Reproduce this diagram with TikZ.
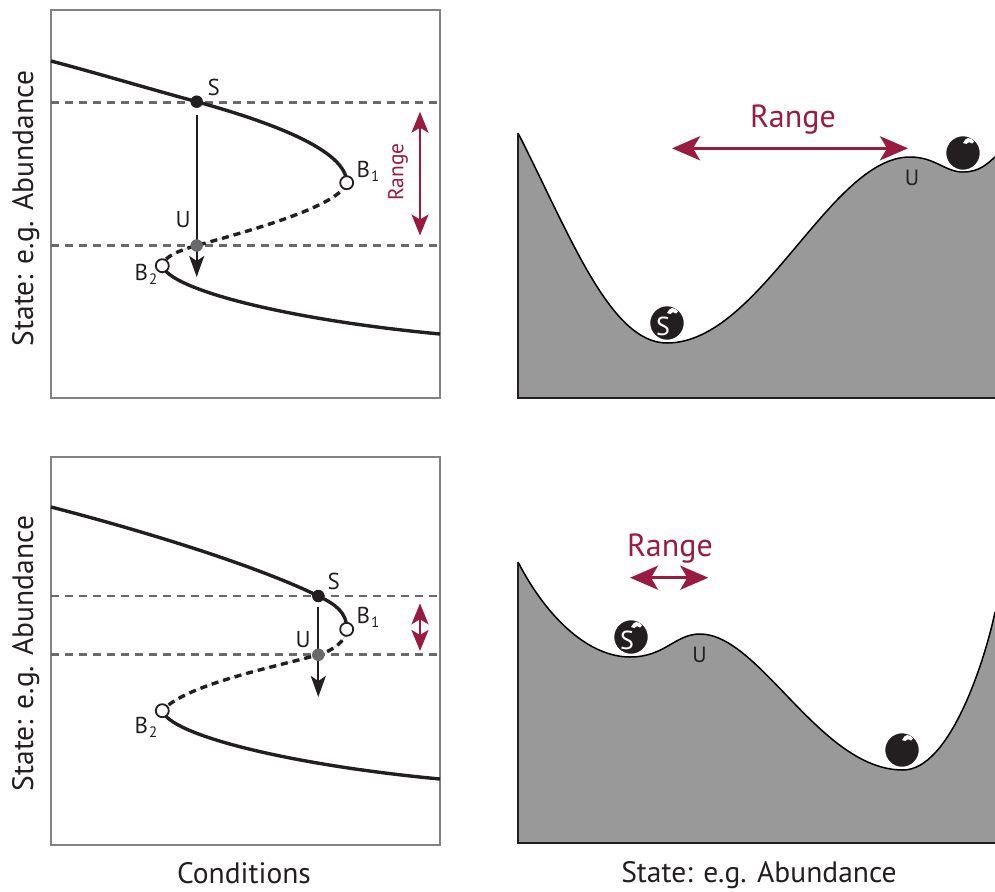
\documentclass[tikz,border=0pt]{standalone}
\usepackage{fontspec}
\setmainfont{PT Sans}
\usetikzlibrary{arrows.meta}
\definecolor{crim}{RGB}{155,27,64}
\definecolor{ink}{RGB}{35,31,32}
\definecolor{dgray}{RGB}{105,105,108}
\definecolor{boxgray}{RGB}{130,130,130}
\definecolor{land}{RGB}{153,153,153}
\begin{document}
\begin{tikzpicture}[x=1pt,y=-1pt,
  panelbox/.style={draw=boxgray,line width=1.6pt},
  guide/.style={draw=dgray,line width=2.8pt,dash pattern=on 8pt off 6pt},
  branch/.style={draw=ink,line width=3.4pt},
  unstable/.style={draw=ink,line width=3.4pt,dash pattern=on 7pt off 5pt},
  ghost/.style={draw=gray!30,line width=1pt},
  sdot/.style={circle,fill=ink,inner sep=0pt,minimum size=12.5pt},
  udot/.style={circle,fill=dgray,inner sep=0pt,minimum size=12.5pt},
  bdot/.style={circle,draw=ink,fill=white,line width=1.8pt,inner sep=0pt,minimum size=13pt},
  shiftarrow/.style={draw=ink,line width=2.2pt,-{Stealth[length=21pt,width=15pt,inset=5pt]}},
  rangearrow/.style={draw=crim,line width=2.4pt,{Stealth[length=21pt,width=17pt,inset=5pt]}-{Stealth[length=21pt,width=17pt,inset=5pt]}},
  bigrange/.style={draw=crim,line width=3.2pt,{Stealth[length=28pt,width=24pt,inset=7pt]}-{Stealth[length=28pt,width=24pt,inset=7pt]}},
  lab/.style={font=\fontsize{23}{26}\selectfont,text=ink,inner sep=0pt},
  ulab/.style={font=\fontsize{22}{26}\selectfont,text=ink,inner sep=0pt},
  axislab/.style={font=\fontsize{29.5}{34}\selectfont,text=ink,inner sep=0pt},
  rangesmall/.style={font=\fontsize{21.5}{24}\selectfont,text=crim,inner sep=0pt},
  rangebig/.style={font=\fontsize{32}{36}\selectfont,text=crim,inner sep=0pt},
  landline/.style={draw=black,line width=1.5pt},
  landaxis/.style={draw=ink,line width=2.4pt},
  ballfill/.style={fill=ink,draw=white,line width=1.5pt},
  balltext/.style={font=\fontsize{26}{28}\selectfont,text=white,inner sep=0pt},
  ball/.pic={
    \path[ballfill] (0,0) circle (17.5pt);
    \fill[white] (0,-10) .. controls (1.5,-13) and (3,-14.5) .. (5,-15)
       .. controls (7.5,-15) and (10,-13.5) .. (11,-11.5)
       -- (9,-9.5) .. controls (7.5,-11) and (5.5,-11.5) .. (3.5,-9)
       -- cycle;
  }
]
\useasboundingbox (0,0) rectangle (995,891);

% ================= top-left panel =================
\node[inner sep=0pt,minimum width=389pt,minimum height=388pt,panelbox] (boxA) at (245.5,204) {};
\coordinate (gA1l) at (51,102.7); \coordinate (gA1r) at (440,102.7);
\coordinate (gA2l) at (51,245.5); \coordinate (gA2r) at (440,245.5);
\draw[guide] (gA1l) -- (gA1r);
\draw[guide] (gA2l) -- (gA2r);

\coordinate (A0) at (51,61);
\coordinate (AS) at (196.7,101.7);
\coordinate (AB1) at (346.7,182.7);
\coordinate (AU) at (196.7,245.5);
\coordinate (AB2) at (162.3,265.7);
\coordinate (Aend) at (440,334);

\draw[branch] (A0) .. controls (100,74) and (150,89) .. (AS)
  .. controls (270,122) and (347,150) .. (AB1);
\draw[ghost] (AB1) .. controls (340,205) and (260,228) .. (AU)
  .. controls (180,250) and (163,257) .. (AB2);
\draw[unstable] (AB1) .. controls (340,205) and (260,228) .. (AU)
  .. controls (180,250) and (163,257) .. (AB2);
\draw[branch] (AB2) .. controls (170,290) and (290,320) .. (Aend);

\coordinate (Aarr1) at (196.7,115);
\coordinate (Aarr2) at (196.7,277);
\draw[shiftarrow] (Aarr1) -- (Aarr2);

\node[sdot] (SA) at (AS) {};
\node[udot] (UA) at (AU) {};
\node[bdot] (B1A) at (AB1) {};
\node[bdot] (B2A) at (AB2) {};

\node[lab,anchor=base west] (SAl) at (207.5,95.5) {S};
\node[lab,anchor=base west] (UAl) at (175.5,227.5) {U};
\node[lab,anchor=base west] (B1Al) at (356.5,177.5) {B\raisebox{-4pt}{\fontsize{15}{15}\selectfont\kern1pt 1}};
\node[lab,anchor=base west] (B2Al) at (134.5,280.5) {B\raisebox{-4pt}{\fontsize{15}{15}\selectfont\kern1pt 2}};

\coordinate (RA1) at (420,111.7);
\coordinate (RA2) at (420,235.5);
\draw[rangearrow] (RA1) -- (RA2);
\node[rangesmall,rotate=90] (RAt) at (398,172) {Range};

\node[axislab,rotate=90,anchor=base] (yA) at (33,208.5) {State: e.g. Abundance};

% ================= bottom-left panel =================
\node[inner sep=0pt,minimum width=389pt,minimum height=388pt,panelbox] (boxB) at (245.5,651) {};
\coordinate (gB1l) at (51,596); \coordinate (gB1r) at (440,596);
\coordinate (gB2l) at (51,654.5); \coordinate (gB2r) at (440,654.5);
\draw[guide] (gB1l) -- (gB1r);
\draw[guide] (gB2l) -- (gB2r);

\coordinate (B0) at (51,507);
\coordinate (BS) at (318.3,596);
\coordinate (BB1) at (346.7,629.3);
\coordinate (BU) at (318.3,654.8);
\coordinate (BB2) at (162.3,710.7);
\coordinate (Bend) at (440,779);

\draw[branch] (B0) .. controls (140,530) and (255,565) .. (BS)
  .. controls (335,604.2) and (347,612) .. (BB1);
\draw[ghost] (BB1) .. controls (346,640) and (335,650) .. (BU)
  .. controls (270,668) and (185,685) .. (BB2);
\draw[unstable] (BB1) .. controls (346,640) and (335,650) .. (BU)
  .. controls (270,668) and (185,685) .. (BB2);
\draw[branch] (BB2) .. controls (170,735) and (290,765) .. (Bend);

\coordinate (Barr1) at (318.3,607);
\coordinate (Barr2) at (318.3,697);
\draw[shiftarrow] (Barr1) -- (Barr2);

\node[sdot] (SB) at (BS) {};
\node[udot] (UB) at (BU) {};
\node[bdot] (B1B) at (BB1) {};
\node[bdot] (B2B) at (BB2) {};

\node[lab,anchor=base west] (SBl) at (327.5,589.5) {S};
\node[lab,anchor=base west] (UBl) at (295.5,647.5) {U};
\node[lab,anchor=base west] (B1Bl) at (356.5,623.5) {B\raisebox{-4pt}{\fontsize{15}{15}\selectfont\kern1pt 1}};
\node[lab,anchor=base west] (B2Bl) at (134.5,733.5) {B\raisebox{-4pt}{\fontsize{15}{15}\selectfont\kern1pt 2}};

\coordinate (RB1) at (420,603.3);
\coordinate (RB2) at (420,651);
\draw[rangearrow] (RB1) -- (RB2);

\node[axislab,rotate=90,anchor=base] (yB) at (33,653.5) {State: e.g. Abundance};
\node[axislab,anchor=base] (xB) at (244,883) {Conditions};

% ================= top-right landscape =================
\fill[land] (518,398) -- (518,133)
  .. controls (570,235) and (610,343) .. (667,343)
  .. controls (760,343) and (830,157) .. (910,157)
  .. controls (935,157) and (945,172) .. (963,172)
  .. controls (980,172) and (988,163) .. (995,157)
  -- (995,398) -- cycle;
\draw[landline] (518,133)
  .. controls (570,235) and (610,343) .. (667,343)
  .. controls (760,343) and (830,157) .. (910,157)
  .. controls (935,157) and (945,172) .. (963,172)
  .. controls (980,172) and (988,163) .. (995,157);
\coordinate (LAtop) at (518,133);
\coordinate (LAcorner) at (518,398);
\coordinate (LAright) at (995,398);
\draw[landaxis] (LAtop) -- (LAcorner) -- (LAright);

\pic (ballA1) at (667,323) {ball};
\node[balltext] (ballA1s) at (663,326) {S};
\pic (ballA2) at (963,153) {ball};

\node[ulab,anchor=base] (UAr) at (912,185.5) {U};

\coordinate (RC1) at (672,148.3);
\coordinate (RC2) at (908,148.3);
\draw[bigrange] (RC1) -- (RC2);
\node[rangebig,anchor=base] (RCt) at (793,127) {Range};

% ================= bottom-right landscape =================
\fill[land] (518,843) -- (518,562)
  .. controls (548,620) and (590,657) .. (630,657)
  .. controls (665,657) and (675,634) .. (700,634)
  .. controls (760,634) and (820,770) .. (903,770)
  .. controls (950,770) and (985,660) .. (995,612)
  -- (995,843) -- cycle;
\draw[landline] (518,562)
  .. controls (548,620) and (590,657) .. (630,657)
  .. controls (665,657) and (675,634) .. (700,634)
  .. controls (760,634) and (820,770) .. (903,770)
  .. controls (950,770) and (985,660) .. (995,612);
\coordinate (LBtop) at (518,562);
\coordinate (LBcorner) at (518,843);
\coordinate (LBright) at (995,843);
\draw[landaxis] (LBtop) -- (LBcorner) -- (LBright);

\pic (ballB1) at (631,637) {ball};
\node[balltext] (ballB1s) at (627,640) {S};
\pic (ballB2) at (902,750) {ball};

\node[ulab,anchor=base] (UBr) at (699.5,662.5) {U};

\coordinate (RD1) at (630,577.7);
\coordinate (RD2) at (708.3,577.7);
\draw[bigrange] (RD1) -- (RD2);
\node[rangebig,anchor=base] (RDt) at (670,556) {Range};

\node[axislab,anchor=base] (xD) at (759,882) {State: e.g. Abundance};
\end{tikzpicture}
\end{document}
